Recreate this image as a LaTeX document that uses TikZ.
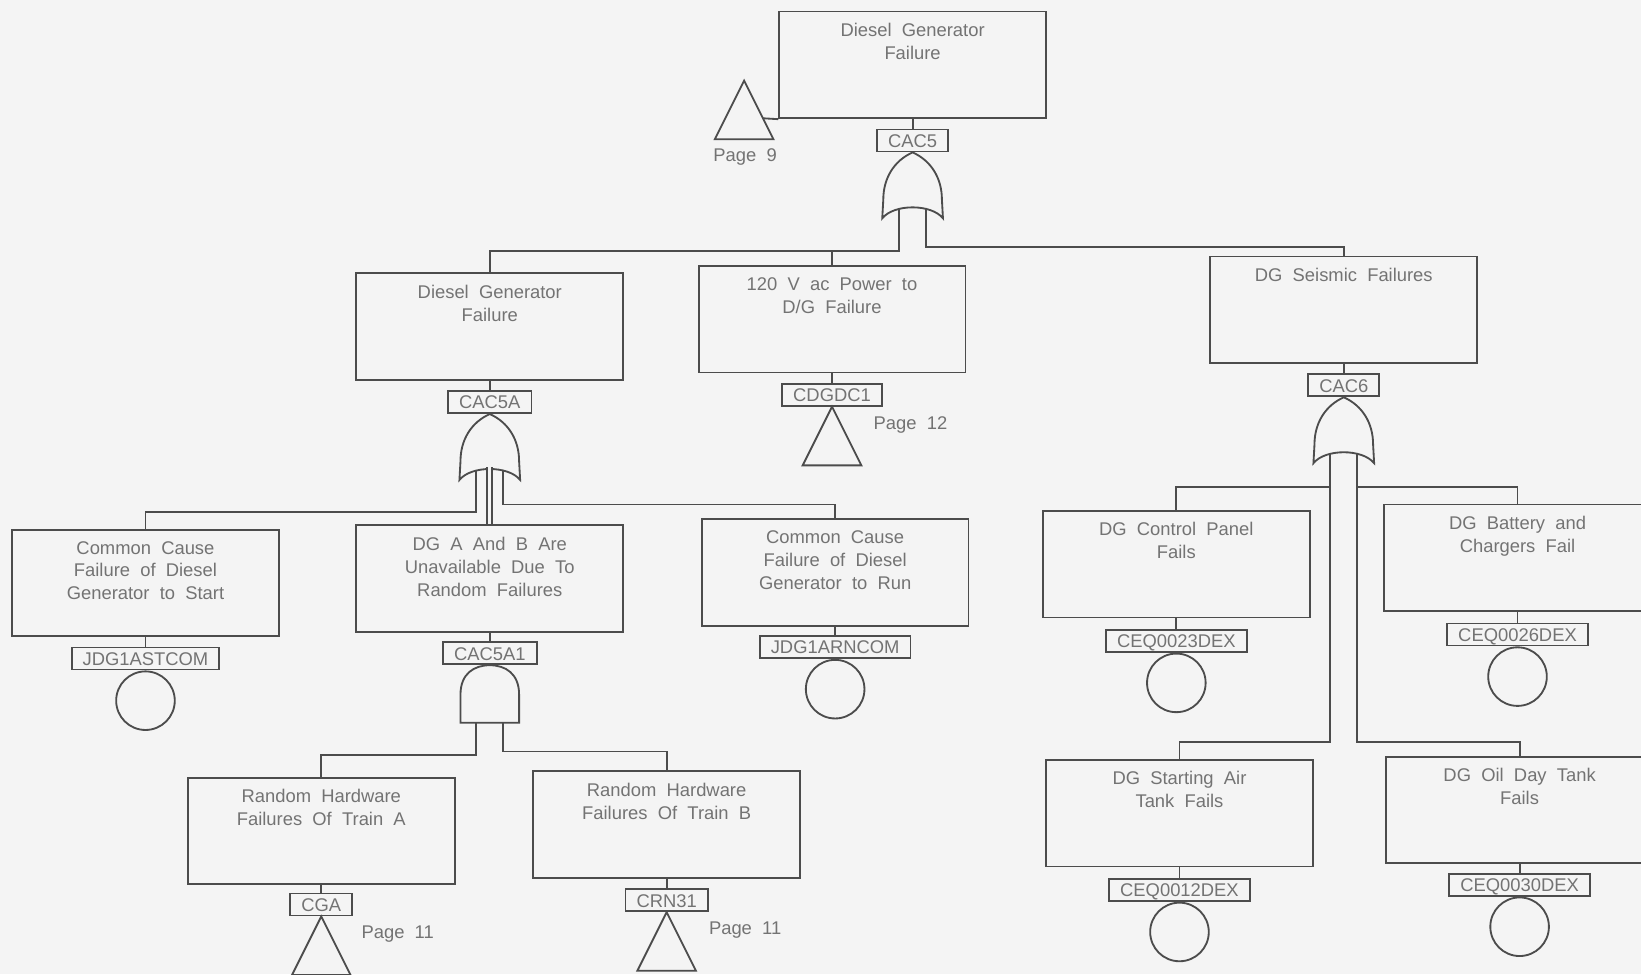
\documentclass[tikz,border=0pt]{standalone}
\usepackage{fontspec}
\setmainfont{Liberation Sans}[WordSpace=2]
\usetikzlibrary{calc}
\definecolor{lncol}{gray}{0.3}
\definecolor{txtcol}{gray}{0.45}
\definecolor{bgcol}{gray}{0.955}
\tikzset{
  ln/.style={draw=lncol, line width=1pt},
  evbox/.style={ln, rectangle, minimum width=5.1cm, minimum height=2.04cm, inner sep=0pt},
  evtext/.style={anchor=north, inner xsep=0pt, inner ysep=6.6pt, align=center, text=txtcol, font=\fontsize{10}{12.5}\selectfont},
  idbox/.style={ln, fill=bgcol, anchor=north, inner xsep=6pt, inner ysep=0pt, minimum height=0.42cm, text height=7.3pt, text depth=0pt, text=txtcol, font=\fontsize{10}{12}\selectfont},
  basic/.style={ln, circle, anchor=north, minimum size=1.12cm, inner sep=0pt},
  pg/.style={text=txtcol, font=\fontsize{10}{12}\selectfont, inner sep=0pt},
  orgate/.pic={
    \draw[ln, fill=bgcol] (0,0) .. controls (-18,8) and (-28,25) .. (-28,45) -- (-29,63) .. controls (-18,49) and (18,49) .. (29,63) -- (28,45) .. controls (28,25) and (18,8) .. (0,0) -- cycle;
    \coordinate (-l) at (-13,53);
    \coordinate (-c) at (0,51);
    \coordinate (-r) at (13,53);
  },
  andgate/.pic={
    \draw[ln, fill=bgcol] (-28,55) -- (-28,28) .. controls (-28,8) and (-15,0) .. (0,0) .. controls (15,0) and (28,8) .. (28,28) -- (28,55) -- cycle;
    \coordinate (-l) at (-13,55);
    \coordinate (-r) at (13,55);
  },
  xfer/.pic={
    \draw[ln] (0,0) -- (-28,56) -- (28,56) -- cycle;
    \coordinate (-r) at (18,36);
  }
}
\begin{document}
\begin{tikzpicture}[x=0.02cm, y=-0.02cm]
\useasboundingbox (0,0) rectangle (1568,931);
\clip (0,0) rectangle (1568,931);
\fill[bgcol] (0,0) rectangle (1568,931);

% top event
\node[evbox] (top) at (872,62) {};
\node[evtext] (top-t) at (top.north) {Diesel Generator\\Failure};
\node[idbox] (cac5) at ([yshift=-0.18cm]top.south) {CAC5};
\draw[ln] (top) -- (cac5);
\pic (g5) at (cac5.south) {orgate};
\pic (t9) at (711,77) {xfer};
\node[pg] (t9-p) at (712,150) {Page 9};
\draw[ln] (t9-r) -- (top.south west);

% second level
\node[evbox] (dgf) at (468,312) {};
\node[evtext] (dgf-t) at (dgf.north) {Diesel Generator\\Failure};
\node[idbox] (cac5a) at ([yshift=-0.18cm]dgf.south) {CAC5A};
\draw[ln] (dgf) -- (cac5a);
\pic (g5a) at (cac5a.south) {orgate};

\node[evbox] (pwr) at (795,305) {};
\node[evtext] (pwr-t) at (pwr.north) {120 V ac Power to\\D/G Failure};
\node[idbox] (cdgdc1) at ([yshift=-0.18cm]pwr.south) {CDGDC1};
\draw[ln] (pwr) -- (cdgdc1);
\pic (t12) at (cdgdc1.south) {xfer};
\node[pg] (t12-p) at ($(cdgdc1.south)+(75,17)$) {Page 12};

\node[evbox] (seis) at (1284,296) {};
\node[evtext] (seis-t) at (seis.north) {DG Seismic Failures};
\node[idbox] (cac6) at ([yshift=-0.18cm]seis.south) {CAC6};
\draw[ln] (seis) -- (cac6);
\pic (g6) at (cac6.south) {orgate};

\coordinate (b1) at (0,240);
\coordinate (b2) at (0,236);
\draw[ln] (g5-l) -- (g5-l |- b1) -| (dgf.north);
\draw[ln] (pwr.north |- b1) -- (pwr.north);
\draw[ln] (g5-r) -- (g5-r |- b2) -| (seis.north);

% under CAC5A
\node[evbox] (ccs) at (139,557) {};
\node[evtext] (ccs-t) at (ccs.north) {Common Cause\\Failure of Diesel\\Generator to Start};
\node[idbox] (jdgs) at ([yshift=-0.18cm]ccs.south) {JDG1ASTCOM};
\draw[ln] (ccs) -- (jdgs);
\node[basic] (jdgs-c) at (jdgs.south) {};

\node[evbox] (dgab) at (468,553) {};
\node[evtext] (dgab-t) at (dgab.north) {DG A And B Are\\Unavailable Due To\\Random Failures};
\node[idbox] (cac5a1) at ([yshift=-0.16cm]dgab.south) {CAC5A1};
\draw[ln] (dgab) -- (cac5a1);
\pic (g5a1) at (cac5a1.south) {andgate};

\node[evbox] (ccr) at (798,547) {};
\node[evtext] (ccr-t) at (ccr.north) {Common Cause\\Failure of Diesel\\Generator to Run};
\node[idbox] (jdgr) at ([yshift=-0.16cm]ccr.south) {JDG1ARNCOM};
\draw[ln] (ccr) -- (jdgr);
\node[basic] (jdgr-c) at (jdgr.south) {};

\coordinate (b3) at (0,489);
\coordinate (b4) at (0,482);
\draw[ln] (g5a-l) -- (g5a-l |- b3) -| (ccs.north);
\draw[ln, double=bgcol, double distance=1.6pt] (g5a-c) -- (dgab.north);
\draw[ln] (g5a-r) -- (g5a-r |- b4) -| (ccr.north);

% under CAC5A1
\node[evbox] (rha) at (307,794) {};
\node[evtext] (rha-t) at (rha.north) {Random Hardware\\Failures Of Train A};
\node[idbox] (cga) at ([yshift=-0.14cm]rha.south) {CGA};
\draw[ln] (rha) -- (cga);
\pic (tcga) at (cga.south) {xfer};
\node[pg] (tcga-p) at ($(cga.south)+(73,17)$) {Page 11};

\node[evbox] (rhb) at (637,788) {};
\node[evtext] (rhb-t) at (rhb.north) {Random Hardware\\Failures Of Train B};
\node[idbox] (crn31) at ([yshift=-0.18cm]rhb.south) {CRN31};
\draw[ln] (rhb) -- (crn31);
\pic (tcrn) at (crn31.south) {xfer};
\node[pg] (tcrn-p) at ($(crn31.south)+(75,17)$) {Page 11};

\coordinate (b5) at (0,721);
\coordinate (b6) at (0,718);
\draw[ln] (g5a1-l) -- (g5a1-l |- b5) -| (rha.north);
\draw[ln] (g5a1-r) -- (g5a1-r |- b6) -| (rhb.north);

% under CAC6
\node[evbox] (cp) at (1124,539) {};
\node[evtext] (cp-t) at (cp.north) {DG Control Panel\\Fails};
\node[idbox] (ceq23) at ([yshift=-0.2cm]cp.south) {CEQ0023DEX};
\draw[ln] (cp) -- (ceq23);
\node[basic] (ceq23-c) at (ceq23.south) {};

\node[evbox] (bat) at (1450,533) {};
\node[evtext] (bat-t) at (bat.north) {DG Battery and\\Chargers Fail};
\node[idbox] (ceq26) at ([yshift=-0.2cm]bat.south) {CEQ0026DEX};
\draw[ln] (bat) -- (ceq26);
\node[basic] (ceq26-c) at (ceq26.south) {};

\node[evbox] (air) at (1127,777) {};
\node[evtext] (air-t) at (air.north) {DG Starting Air\\Tank Fails};
\node[idbox] (ceq12) at ([yshift=-0.2cm]air.south) {CEQ0012DEX};
\draw[ln] (air) -- (ceq12);
\node[basic] (ceq12-c) at (ceq12.south) {};

\node[evbox] (oil) at (1452,774) {};
\node[evtext] (oil-t) at (oil.north) {DG Oil Day Tank\\Fails};
\node[idbox] (ceq30) at ([yshift=-0.16cm]oil.south) {CEQ0030DEX};
\draw[ln] (oil) -- (ceq30);
\node[basic] (ceq30-c) at (ceq30.south) {};

\coordinate (b7) at (0,465);
\coordinate (b8) at (0,709);
\draw[ln] (g6-l) -- (g6-l |- b8) -| (air.north);
\draw[ln] (g6-l |- b7) -| (cp.north);
\draw[ln] (g6-r) -- (g6-r |- b8) -| (oil.north);
\draw[ln] (g6-r |- b7) -| (bat.north);
\end{tikzpicture}
\end{document}
